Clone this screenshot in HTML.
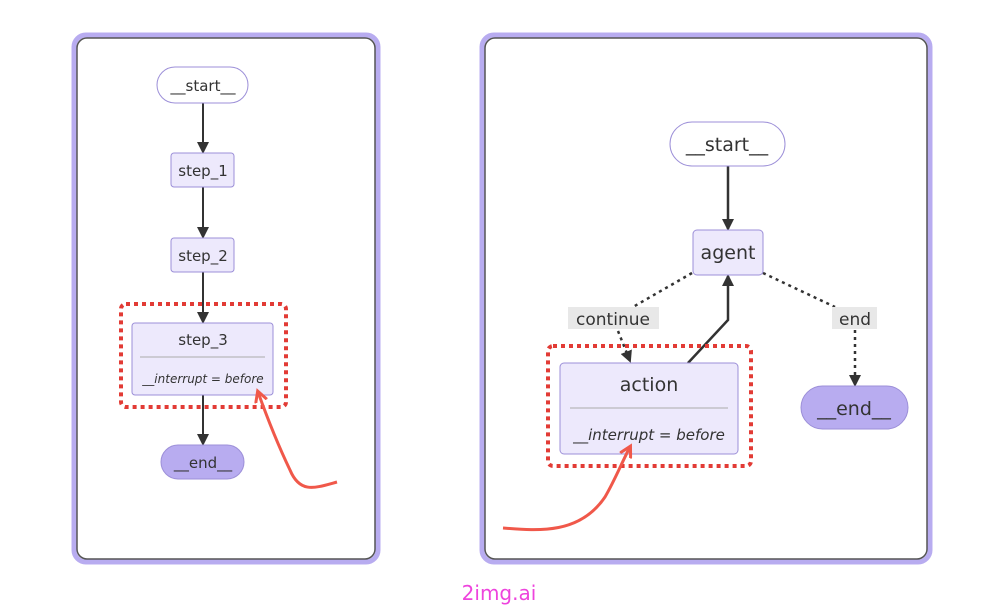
<!DOCTYPE html>
<html><head><meta charset="utf-8"><style>
html,body{margin:0;padding:0;background:#fff;width:1000px;height:606px;overflow:hidden}
</style></head><body>
<svg width="1000" height="606" viewBox="0 0 1000 606" xmlns="http://www.w3.org/2000/svg" font-family="DejaVu Sans, Liberation Sans, sans-serif">
<defs>
<marker id="ah" markerWidth="12" markerHeight="12" refX="10" refY="6" orient="auto" markerUnits="userSpaceOnUse"><path d="M0,0 L12,6 L0,12 z" fill="#333"/></marker>
<marker id="rh" markerWidth="14" markerHeight="14" refX="10" refY="7" orient="auto" markerUnits="userSpaceOnUse"><path d="M0,1 L11,7 L0,13" fill="none" stroke="#f0584a" stroke-width="3"/></marker>
</defs>
<!-- panels -->
<rect x="74" y="35" width="304" height="527" rx="12" fill="#fff" stroke="#b8acf0" stroke-width="5"/>
<rect x="77" y="38" width="298" height="521" rx="10" fill="none" stroke="#555" stroke-width="1.5"/>
<rect x="482" y="35" width="448" height="527" rx="12" fill="#fff" stroke="#b8acf0" stroke-width="5"/>
<rect x="485" y="38" width="442" height="521" rx="10" fill="none" stroke="#555" stroke-width="1.5"/>

<!-- left diagram -->
<g stroke="#333" stroke-width="2" fill="none">
<line x1="203" y1="103" x2="203" y2="152" marker-end="url(#ah)"/>
<line x1="203" y1="187" x2="203" y2="237" marker-end="url(#ah)"/>
<line x1="203" y1="272" x2="203" y2="322" marker-end="url(#ah)"/>
<line x1="203" y1="395" x2="203" y2="444" marker-end="url(#ah)"/>
</g>
<rect x="157" y="67" width="91" height="36" rx="18" fill="#fff" stroke="#9c8fd8"/>
<text x="203" y="91" font-size="15" text-anchor="middle" fill="#333">__start__</text>
<rect x="171" y="153" width="63" height="34" rx="3" fill="#ede9fc" stroke="#9c8fd8"/>
<text x="203" y="176" font-size="15" text-anchor="middle" fill="#333">step_1</text>
<rect x="171" y="238" width="63" height="34" rx="3" fill="#ede9fc" stroke="#9c8fd8"/>
<text x="203" y="261" font-size="15" text-anchor="middle" fill="#333">step_2</text>
<rect x="132" y="323" width="141" height="72" rx="3" fill="#ede9fc" stroke="#9c8fd8"/>
<text x="203" y="345" font-size="15" text-anchor="middle" fill="#333">step_3</text>
<line x1="140" y1="357" x2="265" y2="357" stroke="#aaa"/>
<text x="203" y="383" font-size="12" font-style="italic" text-anchor="middle" fill="#333">__interrupt = before</text>
<rect x="121" y="304" width="165" height="103" rx="5" fill="none" stroke="#e23b35" stroke-width="4" stroke-dasharray="4,4"/>
<rect x="161" y="445" width="83" height="34" rx="17" fill="#b8acf0" stroke="#9c8fd8"/>
<text x="203" y="468" font-size="15" text-anchor="middle" fill="#333">__end__</text>
<path d="M337,482 C315,488 300,494 290,470 C278,445 268,420 258,392" fill="none" stroke="#f0584a" stroke-width="3" marker-end="url(#rh)"/>

<!-- right diagram -->
<g stroke="#333" stroke-width="2.5" fill="none">
<line x1="728" y1="166" x2="728" y2="229" marker-end="url(#ah)"/>
<polyline points="688,363 728,320 728,276" marker-end="url(#ah)"/>
</g>
<g stroke="#333" stroke-width="2.5" fill="none" stroke-dasharray="3,4">
<line x1="692" y1="273" x2="633" y2="307"/>
<line x1="618" y1="331" x2="630" y2="361" marker-end="url(#ah)"/>
<line x1="763" y1="273" x2="835" y2="307"/>
<line x1="855" y1="330" x2="855" y2="385" marker-end="url(#ah)"/>
</g>
<rect x="568" y="307" width="91" height="22" fill="#e8e8e8"/>
<text x="613" y="325" font-size="17" text-anchor="middle" fill="#333">continue</text>
<rect x="832" y="307" width="45" height="22" fill="#e8e8e8"/>
<text x="855" y="325" font-size="17" text-anchor="middle" fill="#333">end</text>
<rect x="670" y="122" width="115" height="44" rx="22" fill="#fff" stroke="#9c8fd8"/>
<text x="727" y="151" font-size="19" text-anchor="middle" fill="#333">__start__</text>
<rect x="693" y="230" width="70" height="45" rx="4" fill="#ede9fc" stroke="#9c8fd8"/>
<text x="728" y="259" font-size="19" text-anchor="middle" fill="#333">agent</text>
<rect x="560" y="363" width="178" height="91" rx="4" fill="#ede9fc" stroke="#9c8fd8"/>
<text x="649" y="391" font-size="19" text-anchor="middle" fill="#333">action</text>
<line x1="570" y1="408" x2="728" y2="408" stroke="#aaa"/>
<text x="649" y="440" font-size="15" font-style="italic" text-anchor="middle" fill="#333">__interrupt = before</text>
<rect x="548" y="346" width="203" height="120" rx="5" fill="none" stroke="#e23b35" stroke-width="4" stroke-dasharray="4,4"/>
<rect x="801" y="386" width="107" height="43" rx="21.5" fill="#b8acf0" stroke="#9c8fd8"/>
<text x="854" y="415" font-size="19" text-anchor="middle" fill="#333">__end__</text>
<path d="M503,528 C540,531 580,534 605,497 C615,480 622,462 630,447" fill="none" stroke="#f0584a" stroke-width="3" marker-end="url(#rh)"/>

<text x="499" y="600" font-size="20" text-anchor="middle" fill="#ee44dd" font-family="DejaVu Sans, sans-serif">2img.ai</text>
</svg>
</body></html>
